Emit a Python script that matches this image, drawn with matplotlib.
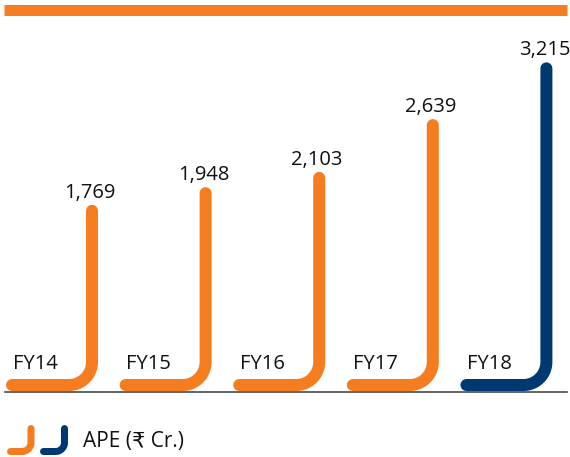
import numpy as np
import matplotlib
matplotlib.use("Agg")
import matplotlib.pyplot as plt

# APE by financial year (Rs crore)
years = ["FY14", "FY15", "FY16", "FY17", "FY18"]
ape = [1769, 1948, 2103, 2639, 3215]
value_labels = ["1,769", "1,948", "2,103", "2,639", "3,215"]
legend_label = "APE (₹ Cr.)"

ORANGE = "#F57D20"
NAVY = "#003971"
FONT = ["Open Sans", "DejaVu Sans"]

plt.rcParams["font.family"] = FONT

W, H, DPI = 570, 457, 100
PX_X = 113.6    # pixels per category
PX_Y = 0.0985   # pixels per crore


def j_shape(ax, xv, top, yb, xl, rx, ry, color, lw):
    # vertical stroke from top down, rounded corner, then horizontal to the left
    t = np.linspace(0, np.pi / 2, 30)
    cx, cy = xv - rx, yb + ry
    xs = np.concatenate([[xv], cx + rx * np.cos(t), [xl]])
    ys = np.concatenate([[top], cy - ry * np.sin(t), [yb]])
    ax.plot(xs, ys, color=color, lw=lw, solid_capstyle="round",
            solid_joinstyle="round")


fig = plt.figure(figsize=(W / DPI, H / DPI), dpi=DPI)

# overlay in pixel units for the decoration and the legend
deco = fig.add_axes([0, 0, 1, 1])
deco.set_xlim(0, W)
deco.set_ylim(H, 0)
deco.axis("off")

ax = fig.add_axes([0, 0, 1, 1])
ax.set_xlim(-92 / PX_X, (W - 92) / PX_X)
ax.set_ylim(-(H - 385) / PX_Y, 385 / PX_Y)
ax.axis("off")

stroke = 12 * 72 / DPI
for i, (yr, v, lab) in enumerate(zip(years, ape, value_labels)):
    color = NAVY if i == len(years) - 1 else ORANGE
    j_shape(ax, i, v, 0, i - 80 / PX_X, 23 / PX_X, 23 / PX_Y, color, stroke)
    ax.annotate(lab, (i, v), xytext=(-1.5, 9.5), textcoords="offset points",
                ha="center", va="baseline", fontsize=14.5, color="#111111")
    ax.annotate(yr, (i - 80 / PX_X, 0), xytext=(0.5, 11.5),
                textcoords="offset points", ha="left", va="baseline",
                fontsize=14.5, color="#111111")

# top orange band and bottom rule
deco.plot([4, 567], [10, 10], color=ORANGE, lw=11 * 72 / DPI,
          solid_capstyle="butt")
deco.plot([5, 567], [392, 392], color="#4a4a4a", lw=1.2)

# legend
small = 7 * 72 / DPI
j_shape(deco, 31, 428.5, 451.5, 10.5, 9, -9, ORANGE, small)
j_shape(deco, 64.5, 428.5, 451.5, 43.5, 9, -9, NAVY, small)
deco.text(83, 442, legend_label, ha="left", va="center", fontsize=15,
          color="#111111")

fig.savefig("out.png", dpi=DPI)
